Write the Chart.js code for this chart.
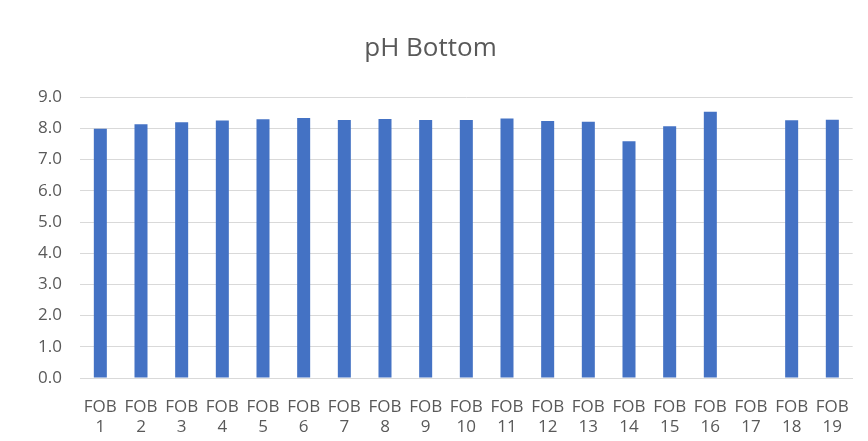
<!DOCTYPE html>
<html>
<head>
<meta charset="utf-8">
<script src="https://cdn.jsdelivr.net/npm/chart.js@4.4.1/dist/chart.umd.min.js"></script>
<style>
  html, body { margin: 0; padding: 0; background: #ffffff; }
  #wrap { width: 868px; height: 441px; position: relative; }
</style>
</head>
<body>
<div id="wrap"><canvas id="c" width="868" height="441"></canvas></div>
<script>
const categories = ["FOB 1","FOB 2","FOB 3","FOB 4","FOB 5","FOB 6","FOB 7","FOB 8","FOB 9","FOB 10","FOB 11","FOB 12","FOB 13","FOB 14","FOB 15","FOB 16","FOB 17","FOB 18","FOB 19"];
const phBottom = [7.99, 8.13, 8.20, 8.25, 8.29, 8.33, 8.27, 8.30, 8.27, 8.27, 8.32, 8.24, 8.21, 7.59, 8.07, 8.53, null, 8.26, 8.28];
const yTicks = [0, 1, 2, 3, 4, 5, 6, 7, 8, 9];
const titleText = "pH Bottom";

const FONT = "'Open Sans', 'Liberation Sans', sans-serif";

new Chart(document.getElementById('c'), {
  type: 'bar',
  data: {
    labels: categories.map(c => c.split(' ')),
    datasets: [{
      label: titleText,
      data: phBottom,
      backgroundColor: '#4472C4',
      borderWidth: 0,
      barPercentage: 0.32,
      categoryPercentage: 1.0
    }]
  },
  options: {
    responsive: false,
    animation: false,
    layout: { padding: { left: 0, right: 7, top: 0, bottom: 0 } },
    plugins: {
      legend: { display: false },
      tooltip: { enabled: false },
      title: {
        display: true,
        text: titleText,
        color: '#595959',
        font: { family: FONT, size: 26, weight: 'normal', lineHeight: 1.2 },
        padding: { top: 33, bottom: 33 }
      }
    },
    scales: {
      x: {
        afterFit: (s) => { s.height = 63; s.paddingBottom = 0; },
        grid: { display: false, drawTicks: false },
        border: { display: true, color: '#d9d9d9' },
        ticks: {
          color: '#595959',
          font: { family: FONT, size: 17, lineHeight: 1.18 },
          padding: 19,
          maxRotation: 0,
          autoSkip: false
        }
      },
      y: {
        min: 0,
        max: yTicks[yTicks.length - 1],
        afterBuildTicks: (s) => { s.ticks = yTicks.map(v => ({ value: v })); },
        afterFit: (s) => { s.width = 80; },
        grid: { color: '#d9d9d9', drawTicks: false },
        border: { display: false },
        ticks: {
          color: '#595959',
          font: { family: FONT, size: 17 },
          padding: 18,
          callback: (v) => Number(v).toFixed(1)
        }
      }
    }
  }
});
</script>
</body>
</html>
